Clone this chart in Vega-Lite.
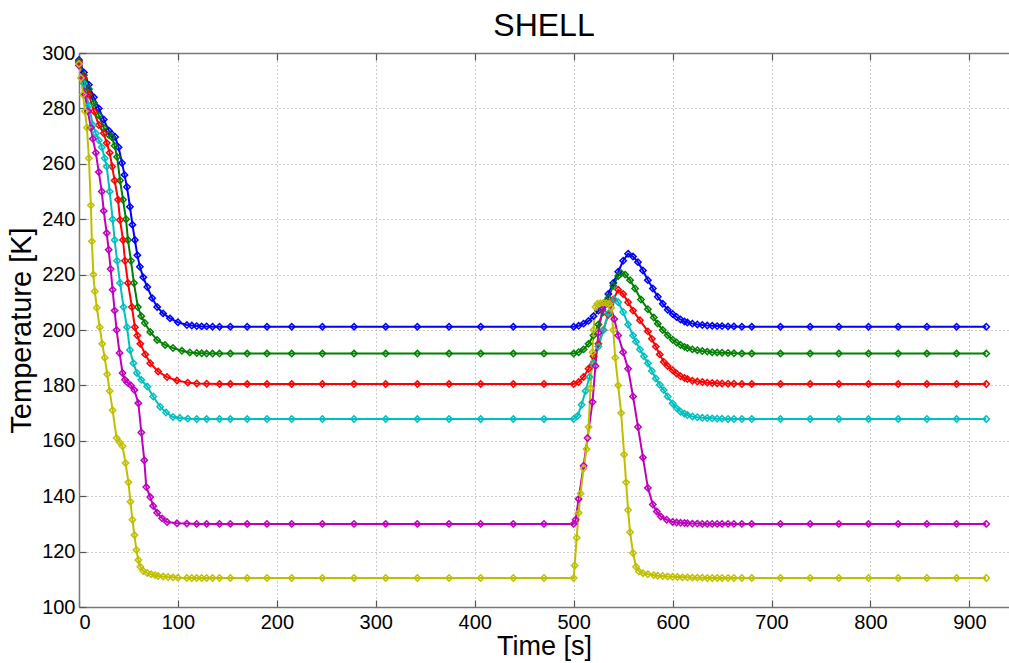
{
  "$schema": "https://vega.github.io/schema/vega-lite/v6.json",
  "width": 930,
  "height": 554,
  "autosize": "none",
  "padding": {"left": 79, "top": 53, "right": 0, "bottom": 56},
  "background": "white",
  "title": {"text": "SHELL", "fontSize": 32, "font": "Liberation Sans", "fontWeight": "normal", "offset": 0, "color": "black", "anchor": "middle"},
  "config": {"view": {"stroke": null}},
  "data": {"values": [
{"s":"s1","t":0,"v":297.5},{"s":"s1","t":5,"v":293},{"s":"s1","t":10,"v":288.5},{"s":"s1","t":15,"v":284},{"s":"s1","t":20,"v":280},{"s":"s1","t":25,"v":276},{"s":"s1","t":30,"v":272},{"s":"s1","t":33,"v":270.8},{"s":"s1","t":36.5,"v":269.7},{"s":"s1","t":40,"v":266},{"s":"s1","t":43.5,"v":260.3},{"s":"s1","t":46,"v":256},{"s":"s1","t":48.5,"v":251.6},{"s":"s1","t":51.5,"v":244.5},{"s":"s1","t":54,"v":238},{"s":"s1","t":56.5,"v":232.5},{"s":"s1","t":59,"v":227},{"s":"s1","t":61.5,"v":222.8},{"s":"s1","t":65,"v":219},{"s":"s1","t":69,"v":215.5},{"s":"s1","t":74,"v":211.5},{"s":"s1","t":79,"v":208.3},{"s":"s1","t":85,"v":206},{"s":"s1","t":92,"v":204.2},{"s":"s1","t":100,"v":202.8},{"s":"s1","t":109,"v":201.8},{"s":"s1","t":114,"v":201.6},{"s":"s1","t":119,"v":201.4},{"s":"s1","t":124,"v":201.3},{"s":"s1","t":129,"v":201.3},{"s":"s1","t":135,"v":201.2},{"s":"s1","t":142,"v":201.2},{"s":"s1","t":153,"v":201.2},{"s":"s1","t":170,"v":201.2},{"s":"s1","t":190,"v":201.2},{"s":"s1","t":215,"v":201.2},{"s":"s1","t":246,"v":201.2},{"s":"s1","t":278,"v":201.2},{"s":"s1","t":310,"v":201.2},{"s":"s1","t":342,"v":201.2},{"s":"s1","t":374,"v":201.2},{"s":"s1","t":406,"v":201.2},{"s":"s1","t":439,"v":201.2},{"s":"s1","t":470,"v":201.2},{"s":"s1","t":500,"v":201.2},
{"s":"s1","t":505,"v":201.5},{"s":"s1","t":510,"v":202.3},{"s":"s1","t":515,"v":203.3},{"s":"s1","t":520,"v":205},{"s":"s1","t":525,"v":207},{"s":"s1","t":530,"v":209.5},{"s":"s1","t":535,"v":213},{"s":"s1","t":540,"v":217},{"s":"s1","t":545,"v":221},{"s":"s1","t":550,"v":225},{"s":"s1","t":555,"v":227.5},{"s":"s1","t":560,"v":226.5},{"s":"s1","t":565,"v":224.5},{"s":"s1","t":570,"v":221.5},{"s":"s1","t":575,"v":218},{"s":"s1","t":580,"v":215},{"s":"s1","t":585,"v":212},{"s":"s1","t":590,"v":209.5},{"s":"s1","t":595,"v":207.3},{"s":"s1","t":600,"v":205.8},{"s":"s1","t":604,"v":204.7},{"s":"s1","t":608,"v":203.8},{"s":"s1","t":612,"v":203.1},{"s":"s1","t":615,"v":202.7},{"s":"s1","t":620,"v":202.3},{"s":"s1","t":625,"v":202},{"s":"s1","t":630,"v":201.8},{"s":"s1","t":635,"v":201.6},{"s":"s1","t":640,"v":201.5},{"s":"s1","t":645,"v":201.4},{"s":"s1","t":650,"v":201.4},{"s":"s1","t":656,"v":201.3},{"s":"s1","t":662,"v":201.3},{"s":"s1","t":670,"v":201.2},{"s":"s1","t":680,"v":201.2},{"s":"s1","t":709,"v":201.2},{"s":"s1","t":739,"v":201.2},{"s":"s1","t":768,"v":201.2},{"s":"s1","t":798,"v":201.2},{"s":"s1","t":828,"v":201.2},{"s":"s1","t":857,"v":201.2},{"s":"s1","t":887,"v":201.2},{"s":"s1","t":917,"v":201.2},
{"s":"s2","t":0,"v":297},{"s":"s2","t":5,"v":292},{"s":"s2","t":10,"v":287},{"s":"s2","t":15,"v":282},{"s":"s2","t":20,"v":277.5},{"s":"s2","t":25,"v":273},{"s":"s2","t":30,"v":270.5},{"s":"s2","t":33,"v":269.7},{"s":"s2","t":36,"v":266.5},{"s":"s2","t":38.5,"v":262.5},{"s":"s2","t":41.5,"v":254},{"s":"s2","t":44.5,"v":247},{"s":"s2","t":47.5,"v":240},{"s":"s2","t":49.5,"v":232.5},{"s":"s2","t":52.5,"v":225},{"s":"s2","t":55.5,"v":217},{"s":"s2","t":59.5,"v":208.3},{"s":"s2","t":63,"v":205},{"s":"s2","t":66.5,"v":202.5},{"s":"s2","t":72,"v":199.3},{"s":"s2","t":79,"v":196.4},{"s":"s2","t":87,"v":194.6},{"s":"s2","t":95,"v":193.5},{"s":"s2","t":104,"v":192.5},{"s":"s2","t":112,"v":191.9},{"s":"s2","t":119,"v":191.7},{"s":"s2","t":124,"v":191.6},{"s":"s2","t":129,"v":191.5},{"s":"s2","t":135,"v":191.5},{"s":"s2","t":142,"v":191.5},{"s":"s2","t":153,"v":191.5},{"s":"s2","t":170,"v":191.5},{"s":"s2","t":190,"v":191.5},{"s":"s2","t":215,"v":191.5},{"s":"s2","t":246,"v":191.5},{"s":"s2","t":278,"v":191.5},{"s":"s2","t":310,"v":191.5},{"s":"s2","t":342,"v":191.5},{"s":"s2","t":374,"v":191.5},{"s":"s2","t":406,"v":191.5},{"s":"s2","t":439,"v":191.5},{"s":"s2","t":470,"v":191.5},{"s":"s2","t":500,"v":191.5},
{"s":"s2","t":505,"v":192},{"s":"s2","t":510,"v":193},{"s":"s2","t":515,"v":195},{"s":"s2","t":520,"v":198},{"s":"s2","t":525,"v":202},{"s":"s2","t":530,"v":206.5},{"s":"s2","t":535,"v":211.5},{"s":"s2","t":540,"v":216},{"s":"s2","t":545,"v":219.5},{"s":"s2","t":548,"v":220.5},{"s":"s2","t":552,"v":220},{"s":"s2","t":557,"v":218},{"s":"s2","t":562,"v":215},{"s":"s2","t":568,"v":211},{"s":"s2","t":575,"v":207.5},{"s":"s2","t":581,"v":204.5},{"s":"s2","t":585,"v":202.3},{"s":"s2","t":590,"v":200},{"s":"s2","t":595,"v":198.1},{"s":"s2","t":600,"v":196.5},{"s":"s2","t":604,"v":195.5},{"s":"s2","t":608,"v":194.6},{"s":"s2","t":612,"v":193.9},{"s":"s2","t":615,"v":193.5},{"s":"s2","t":620,"v":193},{"s":"s2","t":625,"v":192.7},{"s":"s2","t":630,"v":192.4},{"s":"s2","t":635,"v":192.2},{"s":"s2","t":640,"v":192},{"s":"s2","t":645,"v":191.9},{"s":"s2","t":650,"v":191.8},{"s":"s2","t":656,"v":191.7},{"s":"s2","t":662,"v":191.6},{"s":"s2","t":670,"v":191.5},{"s":"s2","t":680,"v":191.5},{"s":"s2","t":709,"v":191.5},{"s":"s2","t":739,"v":191.5},{"s":"s2","t":768,"v":191.5},{"s":"s2","t":798,"v":191.5},{"s":"s2","t":828,"v":191.5},{"s":"s2","t":857,"v":191.5},{"s":"s2","t":887,"v":191.5},{"s":"s2","t":917,"v":191.5},
{"s":"s3","t":0,"v":296.5},{"s":"s3","t":5,"v":291},{"s":"s3","t":10,"v":285},{"s":"s3","t":15,"v":279},{"s":"s3","t":20,"v":274},{"s":"s3","t":25,"v":271},{"s":"s3","t":28,"v":267.5},{"s":"s3","t":31,"v":264},{"s":"s3","t":33.5,"v":259},{"s":"s3","t":36,"v":254},{"s":"s3","t":39.5,"v":247},{"s":"s3","t":41.5,"v":239.7},{"s":"s3","t":44.5,"v":232.5},{"s":"s3","t":46.5,"v":225},{"s":"s3","t":49.5,"v":217},{"s":"s3","t":53.5,"v":208.3},{"s":"s3","t":56.5,"v":201},{"s":"s3","t":59,"v":198},{"s":"s3","t":62,"v":195},{"s":"s3","t":67,"v":191.2},{"s":"s3","t":72,"v":188},{"s":"s3","t":80,"v":185},{"s":"s3","t":89,"v":183},{"s":"s3","t":99,"v":181.8},{"s":"s3","t":110,"v":181},{"s":"s3","t":119,"v":180.7},{"s":"s3","t":129,"v":180.6},{"s":"s3","t":142,"v":180.5},{"s":"s3","t":153,"v":180.5},{"s":"s3","t":170,"v":180.5},{"s":"s3","t":190,"v":180.5},{"s":"s3","t":215,"v":180.5},{"s":"s3","t":246,"v":180.5},{"s":"s3","t":278,"v":180.5},{"s":"s3","t":310,"v":180.5},{"s":"s3","t":342,"v":180.5},{"s":"s3","t":374,"v":180.5},{"s":"s3","t":406,"v":180.5},{"s":"s3","t":439,"v":180.5},{"s":"s3","t":470,"v":180.5},{"s":"s3","t":500,"v":180.5},
{"s":"s3","t":505,"v":181.2},{"s":"s3","t":510,"v":183},{"s":"s3","t":515,"v":186},{"s":"s3","t":520,"v":190.5},{"s":"s3","t":525,"v":195},{"s":"s3","t":530,"v":200},{"s":"s3","t":535,"v":205.5},{"s":"s3","t":540,"v":211},{"s":"s3","t":545,"v":214.5},{"s":"s3","t":550,"v":213},{"s":"s3","t":555,"v":210},{"s":"s3","t":560,"v":207},{"s":"s3","t":567,"v":203.5},{"s":"s3","t":575,"v":199.5},{"s":"s3","t":579,"v":196.8},{"s":"s3","t":583,"v":194},{"s":"s3","t":587,"v":191.2},{"s":"s3","t":591,"v":188.5},{"s":"s3","t":595,"v":187},{"s":"s3","t":600,"v":185.5},{"s":"s3","t":604,"v":184.3},{"s":"s3","t":608,"v":183.3},{"s":"s3","t":612,"v":182.7},{"s":"s3","t":615,"v":182.3},{"s":"s3","t":620,"v":181.7},{"s":"s3","t":625,"v":181.4},{"s":"s3","t":630,"v":181.2},{"s":"s3","t":635,"v":181},{"s":"s3","t":640,"v":180.9},{"s":"s3","t":645,"v":180.8},{"s":"s3","t":650,"v":180.7},{"s":"s3","t":656,"v":180.6},{"s":"s3","t":662,"v":180.6},{"s":"s3","t":670,"v":180.5},{"s":"s3","t":680,"v":180.5},{"s":"s3","t":709,"v":180.5},{"s":"s3","t":739,"v":180.5},{"s":"s3","t":768,"v":180.5},{"s":"s3","t":798,"v":180.5},{"s":"s3","t":828,"v":180.5},{"s":"s3","t":857,"v":180.5},{"s":"s3","t":887,"v":180.5},{"s":"s3","t":917,"v":180.5},
{"s":"s4","t":0,"v":296},{"s":"s4","t":5,"v":289},{"s":"s4","t":10,"v":281},{"s":"s4","t":14,"v":274},{"s":"s4","t":17,"v":271},{"s":"s4","t":20,"v":268.5},{"s":"s4","t":23,"v":266},{"s":"s4","t":26,"v":262},{"s":"s4","t":28,"v":259},{"s":"s4","t":31,"v":250},{"s":"s4","t":34,"v":240},{"s":"s4","t":36,"v":232.5},{"s":"s4","t":38.5,"v":225},{"s":"s4","t":41.5,"v":217},{"s":"s4","t":45,"v":208.3},{"s":"s4","t":48.5,"v":201},{"s":"s4","t":51.5,"v":192.8},{"s":"s4","t":55,"v":188},{"s":"s4","t":58.5,"v":184.5},{"s":"s4","t":63,"v":182},{"s":"s4","t":69,"v":179.6},{"s":"s4","t":75,"v":176},{"s":"s4","t":82,"v":172.3},{"s":"s4","t":88,"v":170.2},{"s":"s4","t":95,"v":168.6},{"s":"s4","t":102,"v":168.2},{"s":"s4","t":110,"v":168},{"s":"s4","t":119,"v":167.9},{"s":"s4","t":129,"v":167.9},{"s":"s4","t":142,"v":167.9},{"s":"s4","t":153,"v":167.9},{"s":"s4","t":170,"v":167.9},{"s":"s4","t":190,"v":167.9},{"s":"s4","t":215,"v":167.9},{"s":"s4","t":246,"v":167.9},{"s":"s4","t":278,"v":167.9},{"s":"s4","t":310,"v":167.9},{"s":"s4","t":342,"v":167.9},{"s":"s4","t":374,"v":167.9},{"s":"s4","t":406,"v":167.9},{"s":"s4","t":439,"v":167.9},{"s":"s4","t":470,"v":167.9},{"s":"s4","t":500,"v":167.9},
{"s":"s4","t":504,"v":169},{"s":"s4","t":508,"v":173},{"s":"s4","t":512,"v":178},{"s":"s4","t":516,"v":183},{"s":"s4","t":520,"v":188},{"s":"s4","t":525,"v":194},{"s":"s4","t":530,"v":200},{"s":"s4","t":535,"v":206},{"s":"s4","t":541,"v":211},{"s":"s4","t":545,"v":210},{"s":"s4","t":550,"v":206.5},{"s":"s4","t":555,"v":202},{"s":"s4","t":560,"v":198},{"s":"s4","t":563,"v":195.8},{"s":"s4","t":567,"v":193},{"s":"s4","t":571,"v":190.5},{"s":"s4","t":575,"v":188},{"s":"s4","t":579,"v":185.2},{"s":"s4","t":583,"v":182.5},{"s":"s4","t":587,"v":180.2},{"s":"s4","t":591,"v":178.3},{"s":"s4","t":595,"v":176},{"s":"s4","t":600,"v":173.5},{"s":"s4","t":604,"v":171.8},{"s":"s4","t":608,"v":170.5},{"s":"s4","t":612,"v":169.8},{"s":"s4","t":615,"v":169.3},{"s":"s4","t":620,"v":168.8},{"s":"s4","t":625,"v":168.5},{"s":"s4","t":630,"v":168.3},{"s":"s4","t":635,"v":168.2},{"s":"s4","t":640,"v":168.1},{"s":"s4","t":645,"v":168},{"s":"s4","t":650,"v":168},{"s":"s4","t":656,"v":167.9},{"s":"s4","t":662,"v":167.9},{"s":"s4","t":670,"v":167.9},{"s":"s4","t":680,"v":167.9},{"s":"s4","t":709,"v":167.9},{"s":"s4","t":739,"v":167.9},{"s":"s4","t":768,"v":167.9},{"s":"s4","t":798,"v":167.9},{"s":"s4","t":828,"v":167.9},{"s":"s4","t":857,"v":167.9},{"s":"s4","t":887,"v":167.9},{"s":"s4","t":917,"v":167.9},
{"s":"s5","t":0,"v":295.5},{"s":"s5","t":3,"v":291},{"s":"s5","t":6,"v":285},{"s":"s5","t":9,"v":279},{"s":"s5","t":12,"v":273},{"s":"s5","t":14,"v":269},{"s":"s5","t":17,"v":264},{"s":"s5","t":20,"v":257},{"s":"s5","t":23,"v":250},{"s":"s5","t":25,"v":243},{"s":"s5","t":28,"v":235},{"s":"s5","t":30,"v":229},{"s":"s5","t":32,"v":222},{"s":"s5","t":34,"v":214.5},{"s":"s5","t":36,"v":207},{"s":"s5","t":38,"v":200},{"s":"s5","t":41,"v":191.7},{"s":"s5","t":44,"v":184.5},{"s":"s5","t":46.5,"v":182},{"s":"s5","t":49,"v":181},{"s":"s5","t":52.5,"v":180},{"s":"s5","t":56,"v":178.3},{"s":"s5","t":60,"v":173.6},{"s":"s5","t":63,"v":163},{"s":"s5","t":66,"v":153},{"s":"s5","t":68,"v":143.3},{"s":"s5","t":72,"v":139.7},{"s":"s5","t":75,"v":136.5},{"s":"s5","t":79,"v":134},{"s":"s5","t":84,"v":132},{"s":"s5","t":89,"v":130.7},{"s":"s5","t":99,"v":130.2},{"s":"s5","t":109,"v":130.1},{"s":"s5","t":119,"v":130},{"s":"s5","t":129,"v":130},{"s":"s5","t":142,"v":130},{"s":"s5","t":153,"v":130},{"s":"s5","t":170,"v":130},{"s":"s5","t":190,"v":130},{"s":"s5","t":215,"v":130},{"s":"s5","t":246,"v":130},{"s":"s5","t":278,"v":130},{"s":"s5","t":310,"v":130},{"s":"s5","t":342,"v":130},{"s":"s5","t":374,"v":130},{"s":"s5","t":406,"v":130},{"s":"s5","t":439,"v":130},{"s":"s5","t":470,"v":130},{"s":"s5","t":500,"v":130},
{"s":"s5","t":502,"v":131.5},{"s":"s5","t":505,"v":139},{"s":"s5","t":510,"v":151},{"s":"s5","t":514,"v":161},{"s":"s5","t":519,"v":174},{"s":"s5","t":522,"v":187},{"s":"s5","t":525,"v":199},{"s":"s5","t":529,"v":207.5},{"s":"s5","t":533,"v":209.5},{"s":"s5","t":537,"v":209},{"s":"s5","t":541,"v":204},{"s":"s5","t":545,"v":198},{"s":"s5","t":550,"v":192},{"s":"s5","t":555,"v":186},{"s":"s5","t":560,"v":176},{"s":"s5","t":565,"v":165},{"s":"s5","t":570,"v":154},{"s":"s5","t":575,"v":143},{"s":"s5","t":580,"v":137},{"s":"s5","t":584,"v":134.5},{"s":"s5","t":588,"v":132.7},{"s":"s5","t":594,"v":131.5},{"s":"s5","t":600,"v":130.7},{"s":"s5","t":604,"v":130.5},{"s":"s5","t":608,"v":130.4},{"s":"s5","t":612,"v":130.3},{"s":"s5","t":615,"v":130.2},{"s":"s5","t":620,"v":130.1},{"s":"s5","t":625,"v":130.1},{"s":"s5","t":630,"v":130},{"s":"s5","t":635,"v":130},{"s":"s5","t":640,"v":130},{"s":"s5","t":645,"v":130},{"s":"s5","t":650,"v":130},{"s":"s5","t":656,"v":130},{"s":"s5","t":662,"v":130},{"s":"s5","t":670,"v":130},{"s":"s5","t":680,"v":130},{"s":"s5","t":709,"v":130},{"s":"s5","t":739,"v":130},{"s":"s5","t":768,"v":130},{"s":"s5","t":798,"v":130},{"s":"s5","t":828,"v":130},{"s":"s5","t":857,"v":130},{"s":"s5","t":887,"v":130},{"s":"s5","t":917,"v":130},
{"s":"s6","t":0,"v":296},{"s":"s6","t":2,"v":291},{"s":"s6","t":4,"v":285},{"s":"s6","t":6,"v":279},{"s":"s6","t":8,"v":273},{"s":"s6","t":10,"v":262},{"s":"s6","t":12,"v":245},{"s":"s6","t":13,"v":232},{"s":"s6","t":14.5,"v":220},{"s":"s6","t":16,"v":214},{"s":"s6","t":18,"v":208},{"s":"s6","t":21,"v":201},{"s":"s6","t":23.5,"v":195},{"s":"s6","t":26,"v":190},{"s":"s6","t":28.5,"v":184},{"s":"s6","t":31,"v":178},{"s":"s6","t":34,"v":171},{"s":"s6","t":38,"v":161},{"s":"s6","t":41,"v":159.5},{"s":"s6","t":44,"v":158},{"s":"s6","t":47,"v":152},{"s":"s6","t":50,"v":145},{"s":"s6","t":52,"v":138},{"s":"s6","t":54,"v":131.5},{"s":"s6","t":56,"v":126},{"s":"s6","t":58,"v":120.6},{"s":"s6","t":60,"v":117},{"s":"s6","t":62,"v":114.5},{"s":"s6","t":65,"v":113},{"s":"s6","t":69,"v":112.3},{"s":"s6","t":73,"v":111.8},{"s":"s6","t":77,"v":111.5},{"s":"s6","t":80,"v":111.2},{"s":"s6","t":85,"v":111},{"s":"s6","t":90,"v":110.8},{"s":"s6","t":95,"v":110.7},{"s":"s6","t":100,"v":110.6},{"s":"s6","t":109,"v":110.5},{"s":"s6","t":114,"v":110.5},{"s":"s6","t":119,"v":110.5},{"s":"s6","t":124,"v":110.5},{"s":"s6","t":129,"v":110.5},{"s":"s6","t":135,"v":110.5},{"s":"s6","t":142,"v":110.5},{"s":"s6","t":153,"v":110.5},{"s":"s6","t":170,"v":110.5},{"s":"s6","t":190,"v":110.5},{"s":"s6","t":215,"v":110.5},{"s":"s6","t":246,"v":110.5},{"s":"s6","t":278,"v":110.5},{"s":"s6","t":310,"v":110.5},{"s":"s6","t":342,"v":110.5},{"s":"s6","t":374,"v":110.5},{"s":"s6","t":406,"v":110.5},{"s":"s6","t":439,"v":110.5},{"s":"s6","t":470,"v":110.5},{"s":"s6","t":500,"v":110.5},
{"s":"s6","t":501,"v":115},{"s":"s6","t":503,"v":125},{"s":"s6","t":505,"v":134},{"s":"s6","t":507,"v":141},{"s":"s6","t":510,"v":150},{"s":"s6","t":513,"v":157},{"s":"s6","t":515,"v":165},{"s":"s6","t":517,"v":179},{"s":"s6","t":519,"v":192},{"s":"s6","t":520,"v":200},{"s":"s6","t":522,"v":208.3},{"s":"s6","t":524,"v":209.5},{"s":"s6","t":527,"v":209.7},{"s":"s6","t":530,"v":209.8},{"s":"s6","t":533,"v":209.7},{"s":"s6","t":536,"v":209.5},{"s":"s6","t":538,"v":208},{"s":"s6","t":540,"v":200},{"s":"s6","t":542,"v":190},{"s":"s6","t":545,"v":180},{"s":"s6","t":548,"v":170},{"s":"s6","t":551,"v":155},{"s":"s6","t":553,"v":145},{"s":"s6","t":555,"v":135},{"s":"s6","t":557,"v":127},{"s":"s6","t":560,"v":119.5},{"s":"s6","t":563,"v":114.5},{"s":"s6","t":566,"v":112.8},{"s":"s6","t":570,"v":112.2},{"s":"s6","t":575,"v":111.8},{"s":"s6","t":581,"v":111.5},{"s":"s6","t":585,"v":111.3},{"s":"s6","t":590,"v":111.2},{"s":"s6","t":595,"v":111},{"s":"s6","t":600,"v":110.9},{"s":"s6","t":605,"v":110.8},{"s":"s6","t":610,"v":110.7},{"s":"s6","t":615,"v":110.7},{"s":"s6","t":620,"v":110.6},{"s":"s6","t":625,"v":110.6},{"s":"s6","t":630,"v":110.6},{"s":"s6","t":635,"v":110.5},{"s":"s6","t":640,"v":110.5},{"s":"s6","t":645,"v":110.5},{"s":"s6","t":650,"v":110.5},{"s":"s6","t":656,"v":110.5},{"s":"s6","t":662,"v":110.5},{"s":"s6","t":670,"v":110.5},{"s":"s6","t":680,"v":110.5},{"s":"s6","t":709,"v":110.5},{"s":"s6","t":739,"v":110.5},{"s":"s6","t":768,"v":110.5},{"s":"s6","t":798,"v":110.5},{"s":"s6","t":828,"v":110.5},{"s":"s6","t":857,"v":110.5},{"s":"s6","t":887,"v":110.5},{"s":"s6","t":917,"v":110.5}
  ]},
  "layer": [
    {
      "mark": {"type": "line", "strokeWidth": 2},
      "encoding": {
        "x": {"field": "t", "type": "quantitative", "scale": {"domain": [0, 940], "nice": false, "zero": false},
              "axis": {"orient": "bottom", "values": [0,100,200,300,400,500,600,700,800,900], "title": "Time [s]",
                       "titleFont": "Liberation Sans", "titleFontSize": 27, "titleFontWeight": "normal", "titleColor": "black", "titlePadding": 1,
                       "labelFont": "Liberation Sans", "labelFontSize": 20, "labelColor": "black", "labelPadding": 12,
                       "tickSize": -7, "tickColor": "#555", "tickWidth": 1.2, "domainColor": "#777", "domainWidth": 1.5,
                       "grid": true, "gridDash": [1, 3], "gridColor": "#999", "gridWidth": 1}},
        "y": {"field": "v", "type": "quantitative", "scale": {"domain": [100, 300], "nice": false, "zero": false},
              "axis": {"orient": "left", "values": [100,120,140,160,180,200,220,240,260,280,300], "title": "Temperature [K]",
                       "titleFont": "Liberation Sans", "titleFontSize": 29, "titleFontWeight": "normal", "titleColor": "black", "titlePadding": 5,
                       "labelFont": "Liberation Sans", "labelFontSize": 20, "labelColor": "black", "labelPadding": 11,
                       "tickSize": -7, "tickColor": "#555", "tickWidth": 1.2, "domainColor": "#777", "domainWidth": 1.5,
                       "grid": true, "gridDash": [1, 3], "gridColor": "#999", "gridWidth": 1}},
        "color": {"field": "s", "type": "nominal", "scale": {"domain": ["s1","s2","s3","s4","s5","s6"], "range": ["#0000ff","#008000","#ff0000","#00bfbf","#bf00bf","#bfbf00"]}, "legend": null}
      }
    },
    {
      "mark": {"type": "point", "shape": "diamond", "filled": false, "size": 40, "strokeWidth": 1.5, "opacity": 1},
      "encoding": {
        "x": {"field": "t", "type": "quantitative", "scale": {"domain": [0, 940], "nice": false, "zero": false},
              "axis": {"orient": "top", "values": [0,100,200,300,400,500,600,700,800,900], "title": null, "labels": false,
                       "tickSize": -7, "tickColor": "#555", "tickWidth": 1.2, "domainColor": "#777", "domainWidth": 1.5, "grid": false}},
        "y": {"field": "v", "type": "quantitative", "scale": {"domain": [100, 300], "nice": false, "zero": false}, "axis": null},
        "color": {"field": "s", "type": "nominal", "scale": {"domain": ["s1","s2","s3","s4","s5","s6"], "range": ["#0000ff","#008000","#ff0000","#00bfbf","#bf00bf","#bfbf00"]}, "legend": null}
      }
    }
  ],
  "resolve": {"axis": {"x": "independent", "y": "independent"}}
}
